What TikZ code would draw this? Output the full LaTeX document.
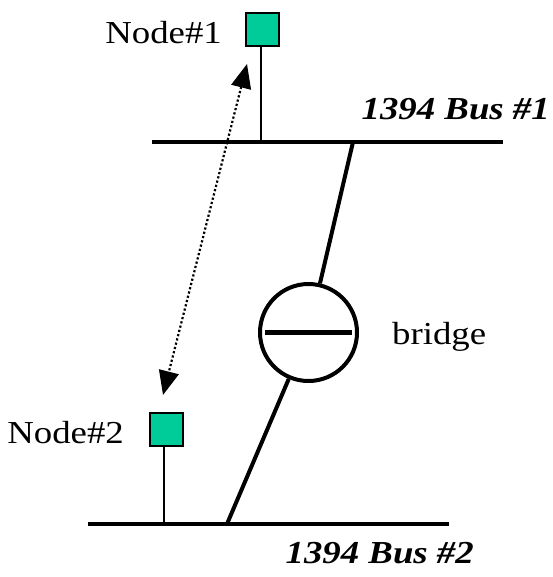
\documentclass[tikz,border=0pt]{standalone}
\usepackage{fontspec}
\setmainfont{Liberation Serif}
\usetikzlibrary{arrows.meta,calc}
\definecolor{teal1}{RGB}{0,204,153}
\newcommand{\wide}[1]{\scalebox{1.15}[1]{#1}}
\begin{document}
\begin{tikzpicture}[x=1pt,y=-1pt,
  devbox/.style={draw=black,line width=1.8pt,fill=teal1,minimum size=33pt,inner sep=0pt},
  bus/.style={line width=4.5pt},
  stem/.style={line width=1.5pt},
  link/.style={line width=4pt},
  lbl/.style={font=\fontsize{32}{36}\selectfont,inner sep=0pt},
  buslbl/.style={font=\fontsize{32}{36}\selectfont\bfseries\itshape,inner sep=0pt}]
\useasboundingbox (0,0) rectangle (552,577);
% buses
\coordinate (b1l) at (152,142);
\coordinate (b1r) at (503,142);
\coordinate (b2l) at (88,524);
\coordinate (b2r) at (449,524);
\draw[bus] (b1l) -- (b1r);
\draw[bus] (b2l) -- (b2r);
% nodes
\node[devbox] (n1) at (262.5,29.5) {};
\node[devbox] (n2) at (166.5,429.5) {};
\coordinate (s1) at (261,142);
\coordinate (s2) at (164,524);
\draw[stem] (n1.south -| s1) -- (s1);
\draw[stem] (n2.south -| s2) -- (s2);
\node[lbl,anchor=base east] (t1) at (222,44) {\wide{Node\#1}};
\node[lbl,anchor=base east] (t2) at (124,443) {\wide{Node\#2}};
% bridge
\node[draw,circle,line width=4pt,minimum size=97pt,inner sep=0pt] (br) at (308.5,332.5) {};
\coordinate (bt) at (353,142);
\coordinate (bb) at (227,524);
\draw[link] (bt) -- (br);
\draw[link] (br) -- (bb);
\draw[line width=5pt] ($(br.west)+(7,0)$) -- ($(br.east)+(-7,0)$);
\node[lbl,anchor=base west] (tb) at (392,344) {\wide{bridge}};
% labels
\node[buslbl,anchor=base east] (l1) at (550,120) {\wide{1394 Bus \#1}};
\node[buslbl,anchor=base east] (l2) at (474,563) {\wide{1394 Bus \#2}};
% dotted arrow
\coordinate (a1) at (247,64);
\coordinate (a2) at (163,395);
\draw[line width=2.2pt,dash pattern=on 2.2pt off 2.2pt,
  {Triangle[length=24pt,width=20pt]}-{Triangle[length=24pt,width=20pt]}] (a1) -- (a2);
\end{tikzpicture}
\end{document}
